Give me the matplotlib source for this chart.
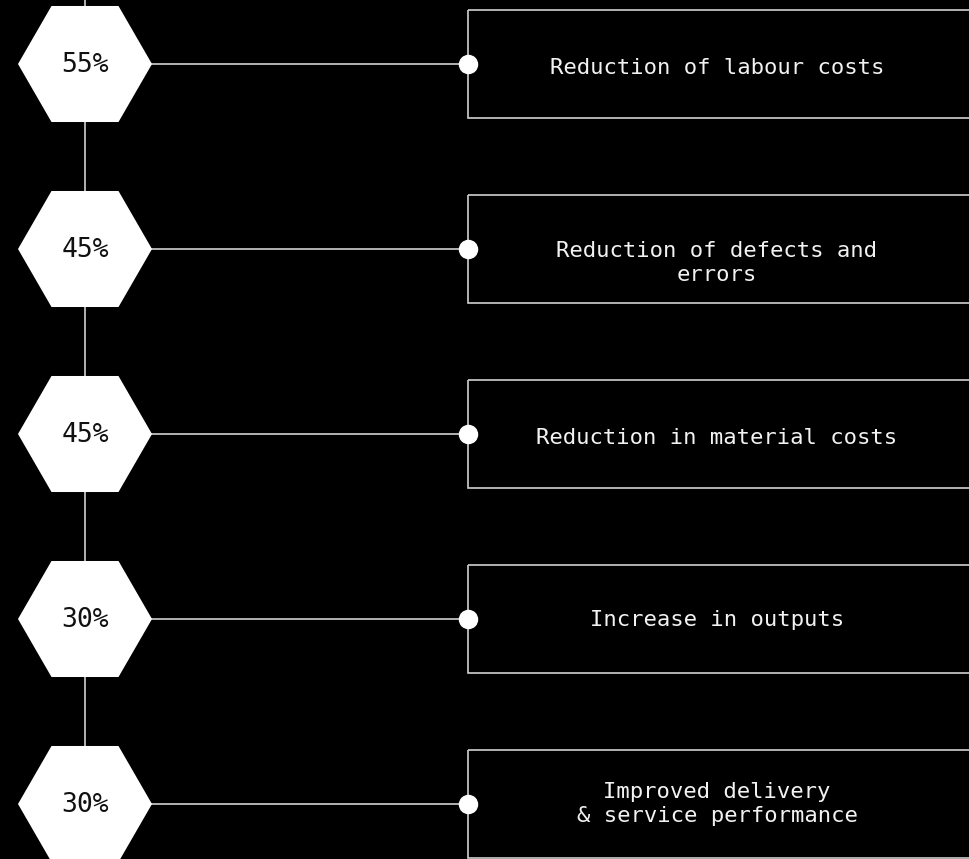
import matplotlib.pyplot as plt
from matplotlib.patches import RegularPolygon, Rectangle

percents = ["55%", "45%", "45%", "30%", "30%"]
labels = [
    "Reduction of labour costs",
    "Reduction of defects and\nerrors",
    "Reduction in material costs",
    "Increase in outputs",
    "Improved delivery\n& service performance",
]

W, H = 969, 859
fig = plt.figure(figsize=(W / 100, H / 100), dpi=100, facecolor="black")
ax = fig.add_axes([0, 0, 1, 1])
ax.set_facecolor("black")
ax.set_xlim(0, W)
ax.set_ylim(H, 0)
ax.axis("off")

line_col = "#d0d0d0"
hex_x = 85
hex_r = 67
dot_x = 468
box_h = 108
y0, step = 64, 185
# small vertical nudges of the label text inside each box
text_dy = [4.5, 14, 4, 0.5, 0]

# vertical spine
ax.plot([hex_x, hex_x], [0, H], color=line_col, lw=1.2, zorder=1)

for i, (pct, lab) in enumerate(zip(percents, labels)):
    y = y0 + i * step
    ax.plot([hex_x, dot_x], [y, y], color=line_col, lw=1.2, zorder=1)
    hexagon = RegularPolygon((hex_x, y), numVertices=6, radius=hex_r,
                             orientation=0.5236, facecolor="white",
                             edgecolor="none", zorder=2)
    ax.add_patch(hexagon)
    ax.text(hex_x, y + 1, pct, ha="center", va="center", fontsize=19,
            family="DejaVu Sans Mono", color="#111111", zorder=3)
    box = Rectangle((dot_x, y - box_h / 2), 520, box_h, facecolor="none",
                    edgecolor=line_col, lw=1.2, zorder=1)
    ax.add_patch(box)
    ax.plot(dot_x, y, "o", color="white", markersize=13, zorder=4)
    ax.text(717, y + text_dy[i], lab, ha="center", va="center", fontsize=16,
            family="DejaVu Sans Mono", color="#f2f2f2", linespacing=1.2,
            zorder=3)

fig.savefig("out.png", dpi=100, facecolor="black")
